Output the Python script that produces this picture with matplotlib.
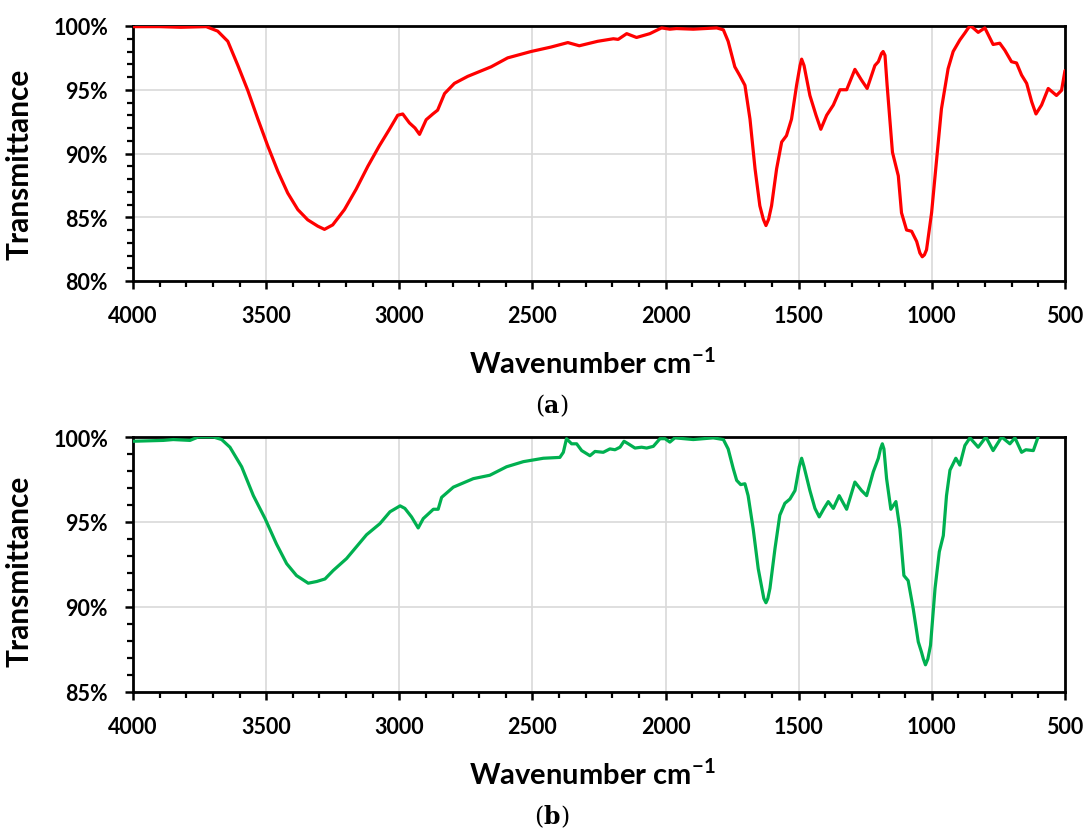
import matplotlib
matplotlib.use("Agg")
import matplotlib.pyplot as plt
from matplotlib.ticker import MultipleLocator, FuncFormatter
from matplotlib.offsetbox import TextArea, HPacker, AnnotationBbox

# FTIR spectrum (a): wavenumber (cm^-1) and transmittance (%)
wn_a = [4000, 3900, 3820, 3725, 3682, 3644, 3606, 3569, 3531, 3494, 3456, 3419,
        3381, 3344, 3306, 3281, 3250, 3206, 3162, 3118, 3075, 3037, 3006, 2987,
        2962, 2941, 2924, 2899, 2874, 2856, 2830, 2793, 2743, 2655, 2593, 2505,
        2430, 2367, 2324, 2255, 2196, 2178, 2146, 2109, 2059, 2015, 1984, 1959,
        1896, 1808, 1783, 1765, 1740, 1721, 1702, 1683, 1664, 1646, 1633, 1623,
        1613, 1602, 1583, 1564, 1546, 1527, 1508, 1495, 1489, 1480, 1458, 1435,
        1417, 1395, 1370, 1345, 1320, 1289, 1264, 1243, 1214, 1201, 1189, 1183,
        1176, 1168, 1148, 1126, 1114, 1095, 1076, 1057, 1045, 1036, 1028, 1020,
        1001, 982, 964, 939, 920, 895, 876, 863, 855, 845, 826, 801, 770, 745,
        726, 701, 682, 663, 644, 625, 609, 588, 563, 532, 513, 500]
tr_a = [99.95, 99.95, 99.9, 99.95, 99.6, 98.8, 96.9, 94.95, 92.7, 90.6, 88.6, 86.9,
        85.6, 84.8, 84.3, 84.05, 84.4, 85.6, 87.2, 89.0, 90.6, 91.9, 93.0, 93.1,
        92.4, 92.0, 91.5, 92.65, 93.1, 93.4, 94.7, 95.5, 96.05, 96.8, 97.5, 98.0,
        98.35, 98.7, 98.45, 98.8, 99.0, 98.95, 99.4, 99.1, 99.4, 99.85, 99.75, 99.8,
        99.75, 99.85, 99.7, 98.8, 96.8, 96.1, 95.35, 92.7, 88.8, 85.9, 84.85, 84.35,
        84.85, 85.9, 88.8, 90.9, 91.4, 92.7, 95.35, 96.9, 97.4, 96.9, 94.55, 93.0,
        91.9, 93.0, 93.8, 95.0, 95.0, 96.6, 95.75, 95.1, 96.9, 97.2, 97.85, 98.0,
        97.7, 95.35, 90.1, 88.25, 85.35, 84.0, 83.9, 83.1, 82.2, 81.9, 82.05, 82.45,
        85.35, 89.55, 93.5, 96.65, 98.0, 98.9, 99.45, 99.85, 100.0, 99.85, 99.5, 99.85,
        98.55, 98.65, 98.1, 97.2, 97.1, 96.15, 95.5, 94.05, 93.1, 93.8, 95.1, 94.55,
        94.95, 96.5]

# FTIR spectrum (b)
wn_b = [4000, 3886, 3849, 3786, 3755, 3698, 3667, 3636, 3592, 3548, 3504, 3461,
        3423, 3386, 3342, 3310, 3279, 3248, 3198, 3123, 3073, 3035, 2997, 2979,
        2954, 2929, 2910, 2872, 2854, 2841, 2797, 2722, 2660, 2597, 2534, 2459,
        2397, 2384, 2372, 2353, 2334, 2315, 2284, 2265, 2234, 2209, 2190, 2171,
        2156, 2140, 2115, 2090, 2071, 2046, 2021, 2002, 1984, 1965, 1896, 1821,
        1783, 1765, 1746, 1733, 1718, 1702, 1690, 1671, 1652, 1636, 1631, 1623,
        1616, 1608, 1589, 1571, 1552, 1533, 1514, 1498, 1489, 1480, 1458, 1439,
        1423, 1405, 1389, 1370, 1348, 1320, 1289, 1264, 1245, 1220, 1201, 1193,
        1186, 1180, 1170, 1154, 1135, 1120, 1105, 1089, 1070, 1051, 1039, 1032,
        1024, 1015, 1005, 988, 972, 957, 945, 932, 910, 895, 876, 857, 826, 797,
        770, 738, 707, 688, 663, 647, 619, 601]
tr_b = [99.75, 99.8, 99.85, 99.8, 100.0, 100.0, 99.85, 99.4, 98.25, 96.55, 95.2, 93.7,
        92.55, 91.85, 91.4, 91.5, 91.65, 92.15, 92.85, 94.25, 94.9, 95.6, 95.95, 95.8,
        95.3, 94.65, 95.2, 95.75, 95.75, 96.45, 97.05, 97.55, 97.75, 98.25, 98.55, 98.75,
        98.8, 99.1, 99.9, 99.6, 99.6, 99.2, 98.9, 99.15, 99.1, 99.3, 99.25, 99.4,
        99.75, 99.6, 99.35, 99.4, 99.35, 99.45, 99.9, 99.9, 99.7, 99.95, 99.85, 99.95,
        99.85, 99.3, 98.15, 97.45, 97.2, 97.25, 96.55, 94.6, 92.25, 90.9, 90.5, 90.25,
        90.5, 91.1, 93.45, 95.4, 96.1, 96.35, 96.85, 98.25, 98.75, 98.25, 96.85, 95.8,
        95.3, 95.8, 96.2, 95.8, 96.55, 95.75, 97.35, 96.85, 96.55, 97.95, 98.75, 99.3,
        99.6, 99.3, 97.55, 95.75, 96.2, 94.6, 91.85, 91.55, 89.9, 87.95, 87.35, 86.95,
        86.6, 86.95, 87.75, 91.1, 93.25, 94.2, 96.55, 98.05, 98.75, 98.35, 99.5, 99.95,
        99.4, 100.0, 99.2, 100.0, 99.6, 99.95, 99.1, 99.25, 99.2, 100.0]

x_ticks = [4000, 3500, 3000, 2500, 2000, 1500, 1000, 500]

plt.rcParams['font.family'] = ['Lato', 'DejaVu Sans']
plt.rcParams['font.weight'] = 'bold'
plt.rcParams['mathtext.fontset'] = 'custom'
plt.rcParams['mathtext.rm'] = 'Lato:bold'
plt.rcParams['mathtext.bf'] = 'Lato:bold'

W, H = 1088, 829
fig = plt.figure(figsize=(W / 100, H / 100), dpi=100)


def make_panel(rect, wn, tr, color, ylo, label_y):
    ax = fig.add_axes(rect)
    ax.plot(wn, tr, color=color, lw=2.3, solid_joinstyle='round',
            solid_capstyle='round', zorder=3)
    ax.set_xlim(4000, 500)
    ax.set_ylim(ylo, 100)
    ax.set_xticks(x_ticks)
    ax.xaxis.set_minor_locator(MultipleLocator(100))
    ax.yaxis.set_major_locator(MultipleLocator(5))
    ax.yaxis.set_minor_locator(MultipleLocator(1))
    ax.yaxis.set_major_formatter(FuncFormatter(lambda v, p: f"{v:.0f}%"))
    ax.grid(True, which='major', color='#d9d9d9', lw=1.2, zorder=0)
    ax.set_axisbelow(True)
    for s in ax.spines.values():
        s.set_linewidth(2.0)
        s.set_color('black')
    ax.tick_params(axis='both', which='major', direction='out', length=6, width=1.8,
                   color='black')
    ax.tick_params(axis='both', which='minor', direction='out', length=4.5, width=1.6,
                   color='black')
    ax.tick_params(axis='x', which='major', labelsize=15.5, pad=11)
    ax.tick_params(axis='y', which='major', labelsize=15.5, pad=12)
    for lab in ax.get_xticklabels() + ax.get_yticklabels():
        lab.set_fontweight('bold')
    ax.set_ylabel('Transmittance', fontsize=21.5, fontweight='bold')
    ax.yaxis.set_label_coords(-0.107, label_y)
    ax.set_xlabel(r'Wavenumber cm$^{\mathbf{-1}}$', fontsize=21, fontweight='bold')
    ax.xaxis.set_label_coords(0.4925, -0.259)
    return ax


left = 133 / W
width = 932 / W
height = 255 / H
ax1 = make_panel([left, 1 - 282 / H, width, height], wn_a, tr_a, '#ff0000', 80, 0.46)
ax2 = make_panel([left, 1 - 693 / H, width, height], wn_b, tr_b, '#00b050', 85, 0.478)

# Panel captions: "(" + bold letter + ")"
serif = ['DejaVu Serif']


def caption(letter, y):
    plain = dict(family=serif, size=17, weight='normal', color='black')
    bold = dict(family=serif, size=17, weight='bold', color='black')
    box = HPacker(children=[TextArea('(', textprops=plain),
                            TextArea(letter, textprops=bold),
                            TextArea(')', textprops=plain)],
                  align='baseline', pad=0, sep=0)
    ab = AnnotationBbox(box, (552 / W, y), xycoords='figure fraction',
                        frameon=False, box_alignment=(0.5, 0.5))
    fig.add_artist(ab)


caption('a', 1 - 406 / H)
caption('b', 1 - 817 / H)

fig.savefig('out.png', dpi=100)
